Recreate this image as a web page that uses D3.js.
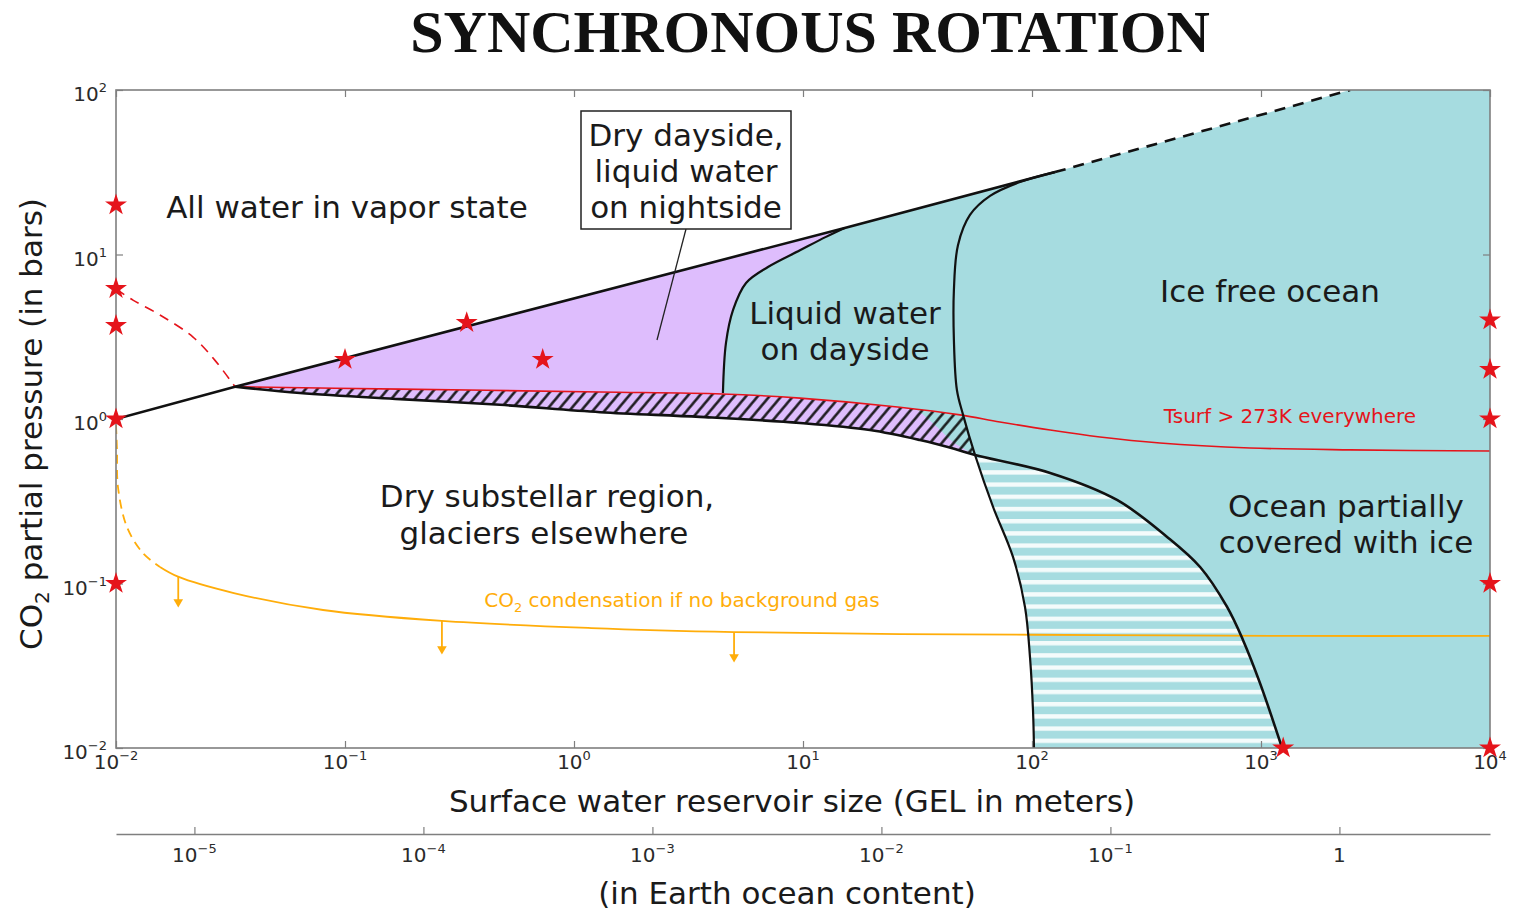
<!DOCTYPE html>
<html>
<head>
<meta charset="utf-8">
<script src="https://cdn.jsdelivr.net/npm/d3@7"></script>
<style>
  body { margin: 0; background: #fff; }
  svg { font-family: 'DejaVu Sans', sans-serif; }
</style>
</head>
<body>
<svg class="main" width="1519" height="910"></svg>
<script>
// all points are [GEL in meters, CO2 pressure in bars]
var vaporLine = [[0.01, 1.0], [0.0331, 1.57], [15.2, 14.5], [126, 31.7]]
var vaporLineDashed = [[126, 31.7], [2450, 100]]
var liquidDayside = [[4.47, 1.44], [4.61, 2.90], [4.95, 4.60], [5.64, 6.71], [7.03, 8.39], [9.70, 10.6], [12.6, 12.8], [15.2, 14.5]]
var iceFree = [[126, 31.7], [88.7, 27.6], [65.6, 22.7], [53.6, 17.4], [47.5, 11.4], [45.6, 6.08], [45.6, 3.02], [47.0, 1.50],
  [50.0, 1.06], [56.4, 0.604], [67.6, 0.292], [82.6, 0.145], [93.2, 0.072], [98.0, 0.0357], [101, 0.017], [102, 0.01]]
var glacierLine = [[0.0331, 1.57], [0.0636, 1.44], [0.174, 1.32], [0.475, 1.22], [1.30, 1.10], [3.55, 1.03], [9.70, 0.946],
  [19.6, 0.857], [32.4, 0.745], [46.1, 0.657], [56.4, 0.604], [120, 0.470], [235, 0.322], [389, 0.192], [542, 0.126],
  [711, 0.072], [834, 0.0454], [990, 0.0248], [1236, 0.01]]
var nightDayDivide = [[31.8, 1.13], [38.5, 0.894], [45.2, 0.725], [56.4, 0.604]]
var tsurfDashed = [[0.01, 6.17], [0.01186, 5.28], [0.01556, 4.29], [0.0217, 3.15], [0.0270, 2.28], [0.0331, 1.57]]
var tsurfLine = [[0.0331, 1.57], [0.174, 1.52], [1.30, 1.46], [4.43, 1.42], [9.70, 1.34], [26.5, 1.18], [48.5, 1.06],
  [72.4, 0.96], [120, 0.857], [198, 0.778], [362, 0.715], [895, 0.667], [2450, 0.649], [10000, 0.639]]
var co2Dashed = [[0.01, 0.92], [0.0101, 0.648], [0.0102, 0.386], [0.01117, 0.220], [0.01312, 0.153], [0.01556, 0.126]]
var co2Line = [[0.01556, 0.126], [0.01866, 0.110], [0.0327, 0.0875], [0.0802, 0.069], [0.265, 0.0592], [1.19, 0.0536],
  [5.0, 0.0507], [26.5, 0.0493], [198, 0.0486], [1480, 0.048], [10000, 0.048]]
var co2Arrows = [[0.0187, 0.110, 0.074], [0.265, 0.0592, 0.0383], [5.0, 0.0507, 0.0343]]
var stars = [[0.01, 20], [0.01, 6.2], [0.01, 3.7], [0.01, 1], [0.01, 0.1],
  [10000, 4], [10000, 2], [10000, 1], [10000, 0.1], [10000, 0.01], [1250, 0.01],
  [0.1, 2.3], [0.34, 3.85], [0.73, 2.3]]
var xTicks = [1e-2, 1e-1, 1e0, 1e1, 1e2, 1e3, 1e4]
var xExp = ['−2', '−1', '0', '1', '2', '3', '4']
var yTicks = [1e-2, 1e-1, 1e0, 1e1, 1e2]
var yExp = ['−2', '−1', '0', '1', '2']
var oceanTicks = [1e-5, 1e-4, 1e-3, 1e-2, 1e-1, 1]
var oceanExp = ['−5', '−4', '−3', '−2', '−1', null]
var earthOceanGEL = 2200

var cyan = '#a6dce0', purple = '#debdfd', red = '#e5141b', orange = '#ffad0a', axisGray = '#7f7f7f'

const svg = d3.select('svg.main')
const margin = {top: 90, left: 116}
const width = 1374
const height = 658

const x = d3.scaleLog().domain([1e-2, 1e4]).range([0, width])
const y = d3.scaleLog().domain([1e-2, 1e2]).range([height, 0])
const xOcean = d3.scaleLog().domain([1e-2 / earthOceanGEL, 1e4 / earthOceanGEL]).range([0, width])
const line = d3.line().x(d => x(d[0])).y(d => y(d[1]))
const smooth = d3.line().x(d => x(d[0])).y(d => y(d[1])).curve(d3.curveCatmullRom.alpha(0.5))

// join several boundary pieces into one closed region, [points, smooth?]
function region(parts) {
  return parts.map((p, i) => {
    var s = (p[1] ? smooth : line)(p[0])
    return i ? 'L' + s.slice(1) : s
  }).join('') + 'Z'
}

// patterns
const defs = svg.append('defs')
defs.append('clipPath').attr('id', 'plot')
  .append('rect').attr('width', width).attr('height', height)
const hatch = defs.append('pattern').attr('id', 'hatch')
  .attr('patternUnits', 'userSpaceOnUse').attr('width', 9).attr('height', 9)
  .attr('patternTransform', 'rotate(40)')
hatch.append('line').attr('x1', 4.5).attr('x2', 4.5).attr('y1', -1).attr('y2', 10)
  .attr('stroke', '#111').attr('stroke-width', 2.4)
const stripes = defs.append('pattern').attr('id', 'stripes')
  .attr('patternUnits', 'userSpaceOnUse').attr('width', 20).attr('height', 12.2)
  .attr('y', 2)
stripes.append('rect').attr('width', 20).attr('height', 12.2).attr('fill', cyan)
stripes.append('rect').attr('width', 20).attr('height', 4.4).attr('fill', '#f4fbfb')

var body = svg.append('g')
  .attr('transform', `translate(${margin.left}, ${margin.top})`)
var plot = body.append('g').attr('clip-path', 'url(#plot)')

// regions
var junction = 0.604
plot.append('path').attr('fill', cyan).attr('d', region([
  [liquidDayside, true],
  [[vaporLine[3], vaporLineDashed[1], [1e4, 100], [1e4, 0.01]], false],
  [glacierLine.filter(d => d[0] >= 3.5).reverse(), true]
]))

plot.append('path').attr('fill', purple).attr('d', region([
  [vaporLine.slice(1, 3), false],
  [liquidDayside.slice().reverse(), true],
  [tsurfLine.filter(d => d[0] > 4.47 && d[0] < 31.8), true],
  [nightDayDivide, true],
  [glacierLine.filter(d => d[1] >= junction).reverse(), true]
]))

plot.append('path').attr('fill', 'url(#stripes)').attr('d', region([
  [iceFree.filter(d => d[1] <= junction), true],
  [glacierLine.filter(d => d[1] <= junction).reverse(), true]
]))

plot.append('path').attr('fill', 'url(#hatch)').attr('d', region([
  [tsurfLine.filter(d => d[0] < 50), true],
  [iceFree.filter(d => d[1] <= 1.06 && d[1] >= junction), true],
  [glacierLine.filter(d => d[1] >= junction).reverse(), true]
]))

// co2 condensation
plot.append('path').attr('d', smooth(co2Dashed)).attr('fill', 'none')
  .attr('stroke', orange).attr('stroke-width', 1.8).attr('stroke-dasharray', '9,6')
plot.append('path').attr('d', smooth(co2Line)).attr('fill', 'none')
  .attr('stroke', orange).attr('stroke-width', 1.8)
plot.selectAll('line.arrow').data(co2Arrows).join('line')
  .attr('class', 'arrow')
  .attr('x1', d => x(d[0])).attr('x2', d => x(d[0]))
  .attr('y1', d => y(d[1])).attr('y2', d => y(d[2]) - 4)
  .attr('stroke', orange).attr('stroke-width', 1.8)
plot.selectAll('path.head').data(co2Arrows).join('path')
  .attr('class', 'head')
  .attr('d', d3.symbol(d3.symbolTriangle, 40))
  .attr('transform', d => `translate(${x(d[0])}, ${y(d[2]) - 3}) rotate(180)`)
  .attr('fill', orange)

// tsurf line
plot.append('path').attr('d', smooth(tsurfDashed)).attr('fill', 'none')
  .attr('stroke', red).attr('stroke-width', 1.6).attr('stroke-dasharray', '10,7')
plot.append('path').attr('d', smooth(tsurfLine)).attr('fill', 'none')
  .attr('stroke', red).attr('stroke-width', 1.6)

// black boundaries
plot.append('path').attr('d', line(vaporLine)).attr('fill', 'none')
  .attr('stroke', '#111').attr('stroke-width', 2.6)
var blackCurves = [[liquidDayside, 2.2], [iceFree, 2.2], [glacierLine, 2.6]]
blackCurves.forEach(b => {
  plot.append('path').attr('d', smooth(b[0])).attr('fill', 'none')
    .attr('stroke', '#111').attr('stroke-width', b[1])
})
plot.append('path').attr('d', line(vaporLineDashed)).attr('fill', 'none')
  .attr('stroke', '#111').attr('stroke-width', 2.6).attr('stroke-dasharray', '11,8')

// frame and axes
body.append('rect').attr('width', width).attr('height', height)
  .attr('fill', 'none').attr('stroke', axisGray).attr('stroke-width', 1.6)
function styleAxis(g) {
  g.select('.domain').remove()
  g.selectAll('.tick line').attr('stroke', axisGray).attr('stroke-width', 1.2)
}
body.append('g').attr('transform', `translate(0, ${height})`)
  .call(d3.axisBottom(x).tickValues(xTicks).tickSize(-7).tickFormat('')).call(styleAxis)
body.append('g')
  .call(d3.axisTop(x).tickValues(xTicks).tickSize(-7).tickFormat('')).call(styleAxis)
body.append('g')
  .call(d3.axisLeft(y).tickValues(yTicks).tickSize(-7).tickFormat('')).call(styleAxis)
body.append('g').attr('transform', `translate(${width}, 0)`)
  .call(d3.axisRight(y).tickValues(yTicks).tickSize(-7).tickFormat('')).call(styleAxis)

const oceanY = 744
const oceanAxis = body.append('g').attr('transform', `translate(0, ${oceanY})`)
  .call(d3.axisBottom(xOcean).tickValues(oceanTicks).tickSize(-7).tickSizeOuter(0).tickFormat(''))
oceanAxis.select('.domain').attr('stroke', axisGray).attr('stroke-width', 1.6)
oceanAxis.selectAll('.tick line').attr('stroke', axisGray).attr('stroke-width', 1.2)

function powLabel(el, exp) {
  el.append('tspan').text(exp === null ? '1' : '10')
  if (exp !== null) el.append('tspan').attr('dy', -9).attr('font-size', 13).text(exp)
}
body.selectAll('text.xt').data(xTicks).join('text')
  .attr('class', 'xt').attr('x', d => x(d)).attr('y', height + 21)
  .attr('text-anchor', 'middle').attr('font-size', 20).attr('fill', '#2a2a2a')
  .each(function(d, i) { powLabel(d3.select(this), xExp[i]) })
body.selectAll('text.yt').data(yTicks).join('text')
  .attr('class', 'yt').attr('x', -9).attr('y', d => y(d) + 11)
  .attr('text-anchor', 'end').attr('font-size', 20).attr('fill', '#2a2a2a')
  .each(function(d, i) { powLabel(d3.select(this), yExp[i]) })
body.selectAll('text.ot').data(oceanTicks).join('text')
  .attr('class', 'ot').attr('x', d => xOcean(d)).attr('y', oceanY + 28)
  .attr('text-anchor', 'middle').attr('font-size', 20).attr('fill', '#2a2a2a')
  .each(function(d, i) { powLabel(d3.select(this), oceanExp[i]) })

// annotation box
svg.append('line').attr('x1', 686).attr('y1', 229).attr('x2', 657).attr('y2', 340)
  .attr('stroke', '#222').attr('stroke-width', 1.3)
svg.append('rect').attr('x', 581).attr('y', 111).attr('width', 210).attr('height', 118)
  .attr('fill', '#fff').attr('stroke', '#222').attr('stroke-width', 1.5)

// text labels
var labels = [
  ['All water in vapor state', 347, 207, 31, '#1a1a1a'],
  ['Dry dayside,', 686, 135, 31, '#1a1a1a'],
  ['liquid water', 686, 171, 31, '#1a1a1a'],
  ['on nightside', 686, 207, 31, '#1a1a1a'],
  ['Liquid water', 845, 313, 31, '#1a1a1a'],
  ['on dayside', 845, 349, 31, '#1a1a1a'],
  ['Ice free ocean', 1270, 291, 31, '#1a1a1a'],
  ['Tsurf > 273K everywhere', 1290, 416, 20, red],
  ['Dry substellar region,', 547, 496, 31, '#1a1a1a'],
  ['glaciers elsewhere', 544, 533, 31, '#1a1a1a'],
  ['Ocean partially', 1346, 506, 31, '#1a1a1a'],
  ['covered with ice', 1346, 542, 31, '#1a1a1a'],
  ['Surface water reservoir size (GEL in meters)', 792, 801, 31, '#1a1a1a'],
  ['(in Earth ocean content)', 787, 893, 31, '#1a1a1a']
]
svg.selectAll('text.lab').data(labels).join('text')
  .attr('class', 'lab')
  .attr('x', d => d[1]).attr('y', d => d[2]).attr('dy', '0.36em')
  .attr('text-anchor', 'middle').attr('font-size', d => d[3]).attr('fill', d => d[4])
  .text(d => d[0])

var co2Text = svg.append('text').attr('x', 682).attr('y', 600).attr('dy', '0.36em')
  .attr('text-anchor', 'middle').attr('font-size', 20).attr('fill', orange)
co2Text.append('tspan').text('CO')
co2Text.append('tspan').attr('dy', 5).attr('font-size', 13).text('2')
co2Text.append('tspan').attr('dy', -5).text(' condensation if no background gas')

var yLabel = svg.append('text').attr('transform', 'translate(42, 424) rotate(-90)')
  .attr('text-anchor', 'middle').attr('font-size', 31).attr('fill', '#1a1a1a')
yLabel.append('tspan').text('CO')
yLabel.append('tspan').attr('dy', 7).attr('font-size', 20).text('2')
yLabel.append('tspan').attr('dy', -7).text(' partial pressure (in bars)')

svg.append('text').attr('x', 810).attr('y', 52).attr('text-anchor', 'middle')
  .attr('font-family', "'Liberation Serif', serif").attr('font-weight', 'bold')
  .attr('font-size', 60).attr('fill', '#111').text('SYNCHRONOUS ROTATION')

// stars
body.selectAll('path.star').data(stars).join('path')
  .attr('class', 'star')
  .attr('d', d3.symbol(d3.symbolStar, 150))
  .attr('transform', d => `translate(${x(d[0])}, ${y(d[1])})`)
  .attr('fill', red)
</script>
</body>
</html>
